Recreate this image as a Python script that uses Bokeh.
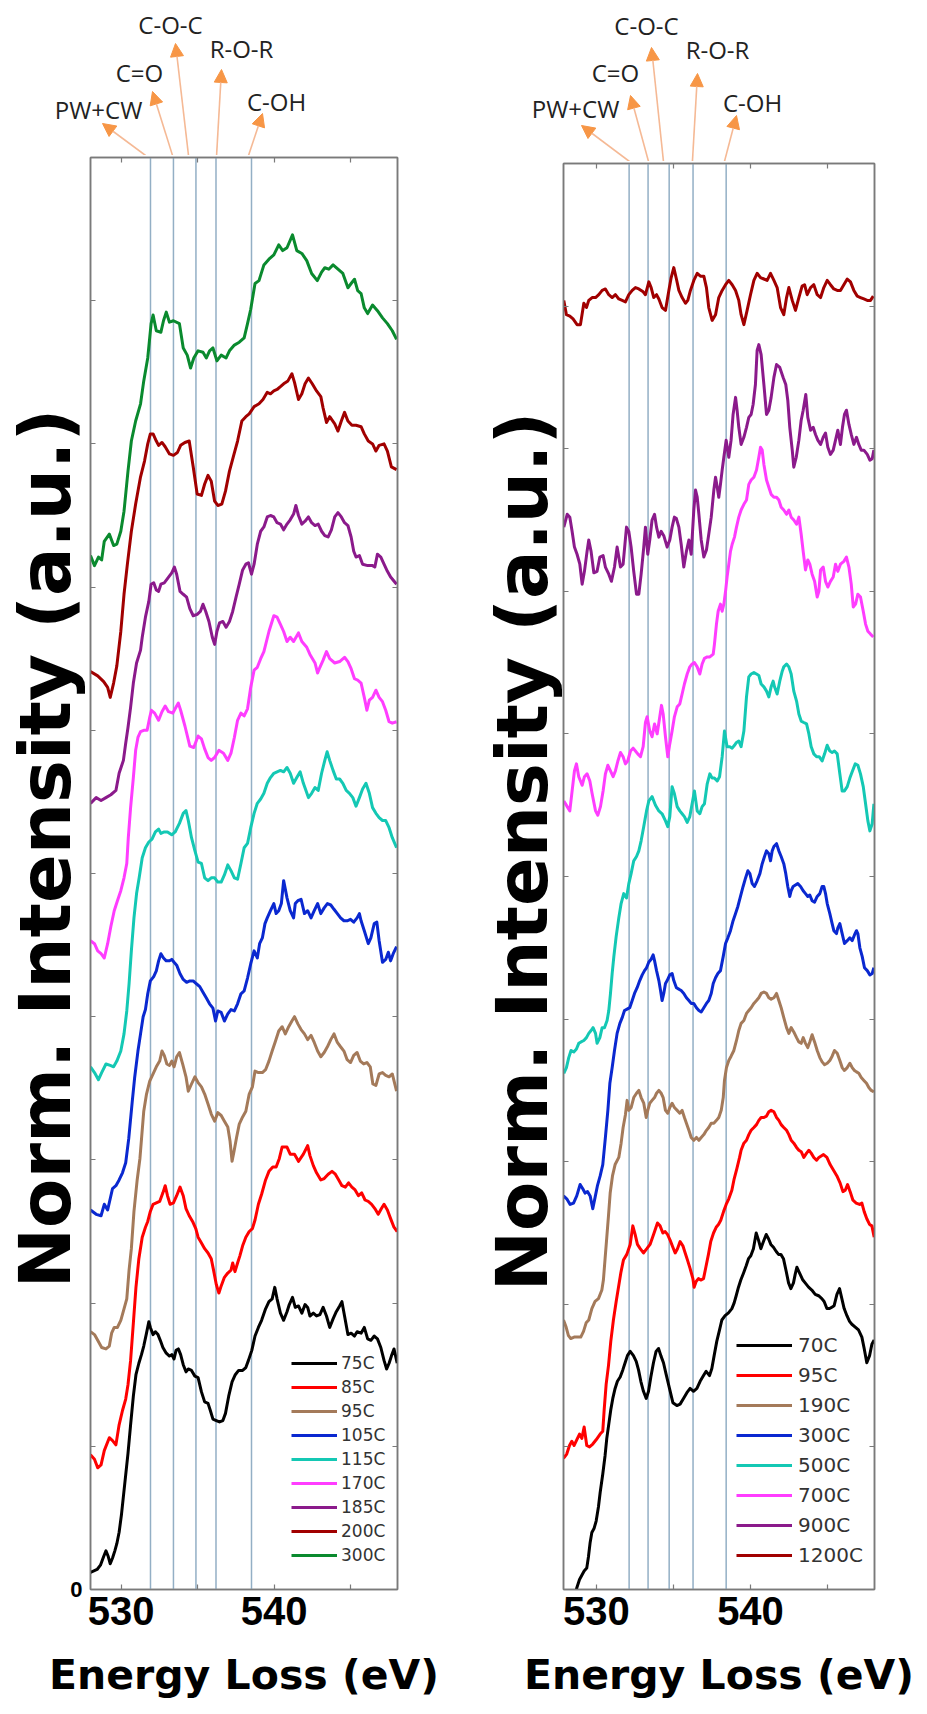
import math
from bokeh.plotting import figure
from bokeh.layouts import row, column
from bokeh.models import (Range1d, LinearAxis, FixedTicker, Legend, LegendItem,
                          Label, Arrow, NormalHead, Span)
from bokeh.embed import file_html
from bokeh.resources import INLINE

# ---------------- data: (energy loss eV, normalised intensity + offset) ----------------
L75 = [(528.0,0.12),(528.22,0.13),(528.43,0.14),(528.65,0.17),(528.86,0.23),(529.01,0.27),(529.16,0.23),(529.29,0.18),(529.44,0.22),(529.59,0.27),(529.72,0.32),(529.87,0.40),(530.02,0.52),(530.15,0.65),(530.30,0.80),(530.45,0.95),(530.62,1.15),(530.80,1.35),(530.97,1.50),(531.16,1.58),(531.33,1.64),(531.48,1.70),(531.66,1.79),(531.81,1.87),(531.91,1.83),(532.09,1.78),(532.24,1.80),(532.41,1.78),(532.56,1.74),(532.73,1.69),(532.95,1.65),(533.16,1.63),(533.31,1.64),(533.46,1.61),(533.59,1.67),(533.74,1.68),(533.89,1.64),(534.06,1.57),(534.24,1.52),(534.39,1.54),(534.60,1.53),(534.82,1.49),(535.03,1.48),(535.25,1.38),(535.46,1.31),(535.68,1.30),(535.83,1.25),(536.00,1.19),(536.22,1.18),(536.43,1.17),(536.65,1.18),(536.82,1.23),(537.03,1.35),(537.25,1.45),(537.46,1.50),(537.68,1.53),(537.94,1.53),(538.15,1.55),(538.32,1.60),(538.54,1.67),(538.75,1.77),(538.97,1.83),(539.18,1.88),(539.44,1.96),(539.66,2.01),(539.87,2.03),(540.04,2.11),(540.19,2.03),(540.41,1.93),(540.62,1.88),(540.84,1.94),(540.99,1.99),(541.20,2.04),(541.38,1.97),(541.59,1.98),(541.81,1.93),(542.02,1.99),(542.19,1.97),(542.34,1.91),(542.56,1.93),(542.77,1.91),(542.99,1.92),(543.20,1.97),(543.42,1.91),(543.63,1.83),(543.85,1.89),(544.06,1.94),(544.28,1.98),(544.43,2.01),(544.60,1.91),(544.82,1.78),(545.03,1.79),(545.25,1.77),(545.42,1.80),(545.68,1.79),(545.89,1.83),(546.11,1.75),(546.32,1.74),(546.54,1.77),(546.75,1.75),(546.97,1.69),(547.18,1.60),(547.35,1.54),(547.51,1.58),(547.66,1.63),(547.83,1.68),(548.04,1.58)]
L85 = [(528.0,0.94),(528.26,0.91),(528.47,0.85),(528.69,0.87),(528.90,0.97),(529.23,1.06),(529.44,1.04),(529.66,1.01),(529.87,1.15),(530.09,1.25),(530.30,1.33),(530.45,1.43),(530.62,1.60),(530.80,1.86),(530.97,2.11),(531.16,2.31),(531.38,2.46),(531.59,2.53),(531.74,2.57),(531.91,2.64),(532.09,2.69),(532.30,2.70),(532.52,2.71),(532.73,2.77),(532.88,2.82),(533.03,2.75),(533.20,2.69),(533.42,2.70),(533.63,2.75),(533.85,2.81),(534.06,2.75),(534.24,2.66),(534.45,2.61),(534.67,2.57),(534.88,2.52),(535.03,2.46),(535.25,2.42),(535.46,2.38),(535.68,2.35),(535.89,2.31),(536.04,2.23),(536.22,2.13),(536.39,2.07),(536.54,2.12),(536.75,2.18),(536.97,2.21),(537.18,2.23),(537.29,2.28),(537.44,2.22),(537.61,2.28),(537.76,2.33),(537.94,2.40),(538.15,2.46),(538.37,2.50),(538.58,2.52),(538.75,2.58),(538.97,2.69),(539.18,2.76),(539.44,2.86),(539.66,2.92),(539.91,2.95),(540.13,2.95),(540.34,3.01),(540.52,3.09),(540.84,3.09),(541.05,3.04),(541.33,3.04),(541.59,2.99),(541.91,3.04),(542.19,3.10),(542.34,3.03),(542.56,2.96),(542.77,2.91),(543.05,2.86),(543.27,2.87),(543.53,2.90),(543.78,2.92),(544.00,2.90),(544.22,2.86),(544.43,2.82),(544.65,2.81),(544.86,2.84),(545.08,2.81),(545.29,2.79),(545.51,2.75),(545.72,2.77),(545.94,2.72),(546.15,2.71),(546.37,2.69),(546.58,2.66),(546.80,2.62),(547.01,2.66),(547.18,2.69),(547.40,2.65),(547.61,2.59),(547.83,2.53),(548.04,2.50)]
L95 = [(528.0,1.80),(528.26,1.78),(528.47,1.74),(528.73,1.69),(529.01,1.68),(529.23,1.70),(529.38,1.79),(529.55,1.83),(529.76,1.83),(529.98,1.88),(530.19,1.96),(530.37,2.03),(530.52,2.23),(530.67,2.38),(530.84,2.64),(531.05,2.86),(531.23,3.01),(531.48,3.34),(531.66,3.46),(531.87,3.55),(532.09,3.60),(532.30,3.65),(532.52,3.69),(532.67,3.76),(532.82,3.73),(532.99,3.67),(533.16,3.66),(533.31,3.69),(533.46,3.65),(533.63,3.72),(533.81,3.75),(534.02,3.67),(534.24,3.58),(534.39,3.48),(534.60,3.53),(534.82,3.58),(535.03,3.54),(535.25,3.51),(535.46,3.46),(535.68,3.39),(535.89,3.32),(536.11,3.27),(536.32,3.33),(536.54,3.31),(536.75,3.27),(536.97,3.23),(537.12,3.13),(537.25,2.99),(537.38,3.06),(537.55,3.16),(537.72,3.25),(537.94,3.30),(538.15,3.34),(538.37,3.46),(538.58,3.51),(538.75,3.62),(538.97,3.61),(539.23,3.61),(539.44,3.63),(539.66,3.69),(539.87,3.76),(540.09,3.83),(540.30,3.90),(540.52,3.93),(540.73,3.88),(540.95,3.93),(541.16,3.97),(541.33,4.00),(541.55,3.95),(541.76,3.91),(541.98,3.88),(542.19,3.84),(542.41,3.87),(542.62,3.82),(542.84,3.76),(543.05,3.72),(543.27,3.75),(543.48,3.79),(543.70,3.84),(543.91,3.88),(544.13,3.82),(544.34,3.79),(544.56,3.76),(544.77,3.70),(544.99,3.68),(545.20,3.73),(545.42,3.75),(545.63,3.69),(545.85,3.67),(546.06,3.68),(546.28,3.65),(546.45,3.53),(546.65,3.52),(546.86,3.60),(547.08,3.61),(547.29,3.59),(547.51,3.58),(547.72,3.60),(548.00,3.48)]
L105 = [(528.0,2.65),(528.37,2.62),(528.69,2.61),(528.90,2.69),(529.12,2.65),(529.44,2.80),(529.66,2.82),(529.87,2.86),(530.09,2.91),(530.30,2.98),(530.50,3.15),(530.73,3.41),(530.88,3.57),(531.10,3.76),(531.27,3.88),(531.44,4.00),(531.59,4.05),(531.74,4.16),(531.91,4.25),(532.13,4.28),(532.30,4.32),(532.45,4.39),(532.60,4.44),(532.77,4.41),(532.95,4.39),(533.16,4.39),(533.31,4.40),(533.46,4.38),(533.63,4.36),(533.85,4.30),(534.06,4.26),(534.28,4.24),(534.49,4.25),(534.71,4.25),(534.92,4.23),(535.14,4.21),(535.35,4.17),(535.57,4.13),(535.78,4.09),(536.00,4.06),(536.17,3.97),(536.32,4.04),(536.54,4.03),(536.75,3.97),(536.97,4.02),(537.18,4.05),(537.40,4.04),(537.61,4.09),(537.83,4.16),(538.04,4.18),(538.26,4.27),(538.47,4.37),(538.69,4.46),(538.90,4.41),(539.05,4.51),(539.23,4.55),(539.40,4.65),(539.55,4.69),(539.76,4.74),(539.98,4.79),(540.13,4.72),(540.30,4.74),(540.47,4.79),(540.62,4.95),(540.84,4.83),(541.05,4.74),(541.27,4.69),(541.38,4.79),(541.55,4.81),(541.76,4.82),(541.98,4.72),(542.19,4.74),(542.41,4.69),(542.62,4.74),(542.84,4.79),(543.05,4.72),(543.27,4.76),(543.48,4.79),(543.70,4.78),(543.91,4.75),(544.13,4.72),(544.34,4.69),(544.56,4.67),(544.77,4.67),(544.99,4.68),(545.20,4.66),(545.42,4.69),(545.57,4.72),(545.68,4.67),(545.89,4.60),(546.15,4.51),(546.32,4.55),(546.54,4.65),(546.71,4.66),(546.86,4.53),(547.08,4.38),(547.29,4.40),(547.46,4.45),(547.61,4.39),(547.78,4.44),(548.00,4.49)]
L115 = [(528.0,3.65),(528.26,3.61),(528.52,3.56),(528.73,3.61),(529.01,3.67),(529.29,3.66),(529.51,3.65),(529.72,3.69),(529.98,3.76),(530.19,3.88),(530.37,4.04),(530.52,4.23),(530.67,4.46),(530.84,4.69),(531.01,4.86),(531.18,4.97),(531.38,5.11),(531.59,5.18),(531.81,5.22),(532.02,5.24),(532.24,5.29),(532.45,5.31),(532.60,5.28),(532.82,5.29),(533.03,5.29),(533.31,5.27),(533.53,5.29),(533.81,5.35),(534.06,5.42),(534.24,5.44),(534.39,5.37),(534.60,5.25),(534.82,5.16),(535.03,5.08),(535.25,5.07),(535.46,4.97),(535.68,4.95),(535.89,4.97),(536.11,4.97),(536.32,4.94),(536.54,4.94),(536.75,4.99),(536.97,5.06),(537.18,5.02),(537.40,4.97),(537.61,4.96),(537.83,5.07),(538.04,5.18),(538.26,5.21),(538.47,5.32),(538.69,5.42),(538.90,5.49),(539.12,5.52),(539.33,5.56),(539.55,5.63),(539.76,5.67),(539.98,5.70),(540.19,5.71),(540.41,5.72),(540.62,5.71),(540.84,5.74),(541.05,5.70),(541.27,5.63),(541.48,5.67),(541.70,5.71),(541.91,5.63),(542.24,5.53),(542.45,5.56),(542.67,5.60),(542.88,5.58),(543.10,5.70),(543.31,5.79),(543.46,5.85),(543.63,5.79),(543.85,5.72),(544.06,5.66),(544.28,5.66),(544.49,5.63),(544.71,5.58),(544.92,5.56),(545.14,5.53),(545.35,5.47),(545.57,5.53),(545.78,5.59),(546.00,5.63),(546.22,5.56),(546.43,5.46),(546.65,5.42),(546.86,5.39),(547.08,5.37),(547.29,5.37),(547.51,5.32),(547.72,5.25),(548.00,5.18)]
L170 = [(528.0,4.53),(528.26,4.51),(528.47,4.46),(528.69,4.44),(528.90,4.41),(529.12,4.51),(529.33,4.63),(529.55,4.74),(529.76,4.81),(529.98,4.88),(530.19,4.97),(530.37,5.07),(530.47,5.25),(530.62,5.46),(530.80,5.67),(530.95,5.86),(531.10,5.95),(531.27,5.99),(531.48,6.00),(531.70,6.00),(531.87,6.09),(531.98,6.14),(532.19,6.12),(532.45,6.07),(532.67,6.13),(532.88,6.17),(533.10,6.13),(533.38,6.12),(533.53,6.15),(533.74,6.19),(533.89,6.14),(534.17,6.03),(534.49,5.89),(534.75,5.88),(535.03,5.96),(535.25,5.94),(535.46,5.87),(535.68,5.81),(535.89,5.79),(536.11,5.81),(536.39,5.86),(536.69,5.84),(536.97,5.79),(537.18,5.84),(537.40,5.95),(537.61,6.07),(537.83,6.12),(538.04,6.10),(538.26,6.15),(538.47,6.30),(538.69,6.42),(538.90,6.44),(539.12,6.50),(539.33,6.55),(539.66,6.69),(539.98,6.80),(540.19,6.79),(540.41,6.74),(540.62,6.69),(540.84,6.62),(541.05,6.65),(541.27,6.62),(541.59,6.68),(541.81,6.62),(542.13,6.58),(542.34,6.53),(542.67,6.47),(542.84,6.40),(542.99,6.44),(543.20,6.49),(543.42,6.55),(543.63,6.50),(543.96,6.47),(544.28,6.48),(544.60,6.51),(544.82,6.48),(545.03,6.43),(545.25,6.36),(545.46,6.35),(545.68,6.33),(545.89,6.23),(546.06,6.14),(546.22,6.21),(546.43,6.23),(546.65,6.28),(546.86,6.23),(547.08,6.20),(547.29,6.14),(547.51,6.06),(547.72,6.05),(548.00,6.06)]
L185 = [(528.0,5.49),(528.37,5.53),(528.69,5.51),(529.01,5.53),(529.33,5.55),(529.66,5.58),(529.87,5.70),(530.15,5.79),(530.30,5.91),(530.45,6.02),(530.62,6.16),(530.80,6.33),(531.01,6.47),(531.27,6.56),(531.38,6.65),(531.59,6.79),(531.81,6.90),(531.96,7.02),(532.13,7.03),(532.30,6.98),(532.45,6.97),(532.60,7.02),(532.82,7.03),(533.10,7.07),(533.31,7.10),(533.48,7.14),(533.63,7.09),(533.85,6.97),(534.06,6.95),(534.28,6.93),(534.49,6.85),(534.71,6.80),(534.97,6.81),(535.18,6.83),(535.35,6.88),(535.53,6.83),(535.74,6.76),(535.96,6.65),(536.11,6.60),(536.26,6.69),(536.43,6.75),(536.65,6.76),(536.86,6.72),(537.08,6.76),(537.29,6.83),(537.51,6.93),(537.72,7.02),(537.94,7.12),(538.15,7.16),(538.32,7.17),(538.52,7.09),(538.69,7.16),(538.90,7.30),(539.12,7.39),(539.33,7.42),(539.55,7.49),(539.76,7.50),(539.98,7.49),(540.19,7.45),(540.41,7.44),(540.62,7.40),(540.84,7.44),(541.05,7.47),(541.27,7.51),(541.42,7.57),(541.59,7.50),(541.81,7.44),(542.02,7.46),(542.24,7.49),(542.45,7.45),(542.67,7.43),(542.88,7.44),(543.10,7.39),(543.31,7.36),(543.53,7.35),(543.74,7.40),(543.96,7.49),(544.17,7.52),(544.39,7.49),(544.60,7.45),(544.82,7.43),(545.03,7.35),(545.20,7.25),(545.35,7.21),(545.57,7.22),(545.78,7.16),(546.11,7.15),(546.43,7.15),(546.58,7.14),(546.75,7.23),(546.97,7.21),(547.18,7.16),(547.40,7.11),(547.61,7.07),(548.00,7.02)]
L200 = [(528.0,6.41),(528.47,6.38),(528.86,6.34),(529.12,6.30),(529.29,6.23),(529.51,6.33),(529.72,6.45),(529.98,6.69),(530.19,6.95),(530.41,7.16),(530.67,7.39),(530.95,7.58),(531.27,7.77),(531.53,7.88),(531.74,8.00),(531.91,8.07),(532.09,8.07),(532.30,8.02),(532.45,7.99),(532.67,8.01),(532.88,7.98),(533.16,7.93),(533.42,7.92),(533.68,7.94),(533.89,7.99),(534.17,8.01),(534.45,8.02),(534.71,7.84),(534.97,7.65),(535.25,7.64),(535.46,7.72),(535.68,7.78),(535.89,7.74),(536.11,7.60),(536.32,7.57),(536.58,7.58),(536.82,7.67),(537.08,7.81),(537.33,7.91),(537.61,8.02),(537.89,8.16),(538.15,8.19),(538.37,8.21),(538.69,8.26),(539.01,8.28),(539.27,8.31),(539.55,8.36),(539.76,8.35),(539.98,8.37),(540.19,8.38),(540.41,8.40),(540.62,8.42),(540.90,8.44),(541.16,8.49),(541.33,8.43),(541.59,8.31),(541.81,8.35),(542.02,8.42),(542.24,8.46),(542.49,8.42),(542.77,8.37),(543.05,8.33),(543.20,8.25),(543.42,8.15),(543.63,8.19),(543.96,8.14),(544.17,8.09),(544.39,8.16),(544.60,8.22),(544.82,8.16),(545.08,8.13),(545.35,8.13),(545.68,8.12),(545.89,8.07),(546.15,8.02),(546.43,8.00),(546.65,7.95),(546.86,7.99),(547.18,8.00),(547.40,7.95),(547.66,7.84),(548.00,7.82)]
L300 = [(528.0,7.22),(528.26,7.15),(528.52,7.21),(528.73,7.19),(528.90,7.32),(529.23,7.37),(529.51,7.29),(529.72,7.30),(529.98,7.39),(530.19,7.53),(530.45,7.81),(530.67,8.02),(530.95,8.16),(531.27,8.28),(531.48,8.44),(531.74,8.60),(531.96,8.84),(532.09,8.90),(532.30,8.79),(532.60,8.78),(532.77,8.86),(532.95,8.92),(533.16,8.85),(533.42,8.86),(533.81,8.84),(534.06,8.67),(534.32,8.62),(534.54,8.53),(534.75,8.60),(535.03,8.65),(535.35,8.64),(535.57,8.60),(535.78,8.65),(536.00,8.67),(536.26,8.58),(536.54,8.62),(536.86,8.60),(537.08,8.65),(537.40,8.69),(537.72,8.71),(538.04,8.74),(538.26,8.84),(538.47,8.94),(538.75,9.12),(539.01,9.14),(539.33,9.25),(539.66,9.29),(539.98,9.32),(540.30,9.39),(540.56,9.35),(540.84,9.37),(541.20,9.46),(541.48,9.35),(541.81,9.33),(542.13,9.28),(542.45,9.19),(542.82,9.14),(543.10,9.20),(543.31,9.23),(543.57,9.22),(543.85,9.25),(544.17,9.22),(544.49,9.19),(544.82,9.09),(545.03,9.12),(545.25,9.15),(545.46,9.07),(545.68,9.05),(545.89,8.95),(546.11,8.91),(546.43,8.97),(546.75,8.93),(547.08,8.88),(547.40,8.84),(547.72,8.79),(548.00,8.73)]

R70 = [(528.6,-0.05),(528.72,0.01),(528.90,0.07),(529.05,0.10),(529.20,0.13),(529.37,0.15),(529.48,0.23),(529.59,0.33),(529.70,0.40),(529.85,0.43),(529.98,0.48),(530.13,0.58),(530.24,0.68),(530.41,0.81),(530.56,0.94),(530.67,1.06),(530.80,1.16),(530.93,1.26),(531.06,1.34),(531.21,1.41),(531.36,1.46),(531.54,1.49),(531.71,1.54),(531.86,1.59),(532.01,1.64),(532.19,1.67),(532.40,1.64),(532.58,1.60),(532.73,1.54),(532.88,1.46),(533.05,1.39),(533.23,1.34),(533.38,1.39),(533.53,1.49),(533.70,1.59),(533.87,1.67),(534.03,1.69),(534.18,1.64),(534.35,1.59),(534.52,1.51),(534.74,1.41),(534.96,1.31),(535.22,1.29),(535.43,1.30),(535.65,1.34),(535.87,1.38),(536.08,1.41),(536.30,1.39),(536.52,1.41),(536.73,1.46),(536.95,1.50),(537.12,1.53),(537.34,1.50),(537.49,1.55),(537.64,1.64),(537.81,1.74),(537.99,1.82),(538.14,1.89),(538.35,1.92),(538.57,1.94),(538.79,1.97),(538.94,2.01),(539.07,2.06),(539.22,2.12),(539.37,2.17),(539.55,2.22),(539.72,2.27),(539.87,2.32),(540.02,2.34),(540.19,2.39),(540.37,2.50),(540.52,2.45),(540.67,2.39),(540.84,2.44),(541.02,2.49),(541.17,2.46),(541.32,2.42),(541.49,2.40),(541.67,2.37),(541.82,2.35),(541.97,2.35),(542.14,2.32),(542.32,2.23),(542.47,2.15),(542.62,2.11),(542.79,2.15),(542.90,2.21),(543.01,2.26),(543.18,2.22),(543.40,2.17),(543.55,2.15),(543.77,2.12),(543.98,2.10),(544.20,2.07),(544.42,2.06),(544.63,2.04),(544.78,2.02),(544.96,1.97),(545.13,1.97),(545.28,1.98),(545.43,1.99),(545.61,2.07),(545.78,2.11),(545.93,2.04),(546.08,1.97),(546.26,1.92),(546.43,1.88),(546.58,1.86),(546.80,1.84),(547.01,1.82),(547.23,1.77),(547.38,1.69),(547.55,1.59),(547.73,1.64),(547.88,1.72),(548.03,1.75)]
R95 = [(527.86,0.92),(528.07,0.95),(528.25,1.01),(528.40,1.04),(528.55,1.01),(528.72,1.05),(528.90,1.09),(529.05,1.06),(529.20,1.14),(529.37,1.01),(529.55,1.00),(529.76,1.02),(529.98,1.05),(530.24,1.09),(530.41,1.11),(530.50,1.26),(530.63,1.44),(530.78,1.57),(530.93,1.74),(531.10,1.89),(531.28,2.02),(531.43,2.12),(531.58,2.22),(531.75,2.31),(531.97,2.35),(532.19,2.42),(532.36,2.55),(532.51,2.49),(532.66,2.42),(532.84,2.39),(533.05,2.36),(533.27,2.39),(533.48,2.42),(533.74,2.50),(533.96,2.57),(534.13,2.55),(534.31,2.50),(534.46,2.51),(534.61,2.49),(534.78,2.45),(534.96,2.40),(535.11,2.36),(535.26,2.39),(535.43,2.44),(535.61,2.41),(535.76,2.36),(535.91,2.31),(536.08,2.25),(536.26,2.18),(536.34,2.12),(536.47,2.16),(536.62,2.18),(536.77,2.17),(536.95,2.18),(537.12,2.27),(537.27,2.35),(537.42,2.44),(537.60,2.50),(537.77,2.54),(537.92,2.56),(538.07,2.59),(538.25,2.65),(538.42,2.70),(538.59,2.74),(538.79,2.80),(538.94,2.88),(539.11,2.95),(539.29,3.03),(539.39,3.08),(539.57,3.13),(539.74,3.15),(539.89,3.19),(540.04,3.22),(540.22,3.24),(540.39,3.26),(540.54,3.29),(540.69,3.31),(540.87,3.31),(541.04,3.32),(541.19,3.35),(541.34,3.36),(541.52,3.35),(541.69,3.31),(541.84,3.29),(541.99,3.26),(542.16,3.24),(542.34,3.22),(542.49,3.19),(542.64,3.15),(542.81,3.13),(542.99,3.10),(543.14,3.08),(543.29,3.07),(543.46,3.03),(543.64,3.06),(543.79,3.08),(543.94,3.06),(544.11,3.03),(544.29,3.01),(544.44,3.03),(544.59,3.04),(544.74,3.05),(544.96,3.03),(545.17,2.98),(545.39,2.94),(545.61,2.90),(545.82,2.85),(546.00,2.79),(546.15,2.80),(546.30,2.84),(546.47,2.79),(546.65,2.73),(546.86,2.71),(547.08,2.70),(547.23,2.71),(547.38,2.65),(547.55,2.60),(547.73,2.56),(547.88,2.55),(548.03,2.47)]
R190 = [(527.86,1.89),(528.03,1.84),(528.18,1.78),(528.33,1.76),(528.55,1.77),(528.77,1.77),(528.98,1.77),(529.16,1.81),(529.33,1.87),(529.50,1.89),(529.70,1.97),(529.91,2.02),(530.13,2.04),(530.35,2.10),(530.45,2.17),(530.56,2.32),(530.67,2.47),(530.78,2.62),(530.89,2.78),(531.04,2.90),(531.21,2.98),(531.45,3.03),(531.60,3.13),(531.73,3.24),(531.88,3.33),(531.99,3.43),(532.10,3.36),(532.25,3.38),(532.42,3.45),(532.60,3.48),(532.75,3.50),(532.90,3.45),(533.07,3.41),(533.23,3.31),(533.33,3.36),(533.46,3.41),(533.61,3.43),(533.77,3.45),(533.90,3.48),(534.05,3.50),(534.20,3.48),(534.33,3.45),(534.48,3.36),(534.63,3.34),(534.76,3.38),(534.91,3.41),(535.06,3.38),(535.24,3.36),(535.41,3.34),(535.56,3.36),(535.71,3.31),(535.84,3.27),(536.00,3.22),(536.15,3.17),(536.32,3.15),(536.49,3.17),(536.65,3.15),(536.80,3.17),(536.97,3.19),(537.14,3.22),(537.29,3.24),(537.45,3.27),(537.62,3.27),(537.79,3.29),(537.94,3.31),(538.10,3.36),(538.23,3.45),(538.31,3.57),(538.44,3.66),(538.59,3.71),(538.74,3.74),(538.92,3.78),(539.09,3.85),(539.24,3.92),(539.39,3.97),(539.57,3.99),(539.74,4.04),(539.89,4.06),(540.04,4.08),(540.22,4.11),(540.39,4.13),(540.54,4.15),(540.69,4.18),(540.87,4.19),(541.04,4.18),(541.19,4.15),(541.34,4.14),(541.52,4.15),(541.69,4.18),(541.84,4.13),(541.99,4.08),(542.16,4.01),(542.34,3.94),(542.49,3.90),(542.64,3.94),(542.81,3.91),(542.99,3.87),(543.14,3.84),(543.29,3.83),(543.42,3.87),(543.57,3.83),(543.72,3.80),(543.85,3.84),(544.00,3.89),(544.16,3.84),(544.33,3.78),(544.50,3.73),(544.65,3.70),(544.81,3.68),(544.98,3.69),(545.15,3.71),(545.30,3.74),(545.45,3.78),(545.63,3.76),(545.80,3.71),(545.95,3.66),(546.10,3.64),(546.28,3.66),(546.45,3.69),(546.60,3.66),(546.75,3.64),(546.88,3.63),(547.03,3.62),(547.19,3.59),(547.36,3.57),(547.53,3.55),(547.68,3.52),(547.84,3.50),(548.01,3.49)]
R300 = [(527.86,2.76),(528.07,2.74),(528.29,2.70),(528.51,2.71),(528.72,2.76),(528.94,2.84),(529.11,2.81),(529.26,2.78),(529.42,2.79),(529.59,2.76),(529.76,2.67),(529.91,2.75),(530.06,2.83),(530.24,2.90),(530.41,2.98),(530.58,3.17),(530.74,3.36),(530.87,3.55),(531.02,3.66),(531.17,3.78),(531.34,3.90),(531.52,3.97),(531.67,4.01),(531.82,4.06),(531.99,4.07),(532.16,4.08),(532.32,4.13),(532.47,4.18),(532.64,4.22),(532.81,4.27),(532.97,4.31),(533.12,4.34),(533.25,4.36),(533.40,4.40),(533.55,4.42),(533.68,4.45),(533.77,4.41),(533.90,4.34),(534.05,4.27),(534.16,4.20),(534.26,4.13),(534.37,4.18),(534.48,4.25),(534.59,4.27),(534.76,4.31),(534.91,4.32),(535.02,4.27),(535.19,4.22),(535.35,4.21),(535.50,4.20),(535.67,4.18),(535.84,4.15),(536.00,4.13),(536.15,4.11),(536.32,4.11),(536.49,4.08),(536.65,4.06),(536.80,4.05),(536.97,4.08),(537.14,4.11),(537.29,4.13),(537.45,4.18),(537.58,4.25),(537.73,4.29),(537.88,4.32),(538.05,4.34),(538.23,4.44),(538.38,4.53),(538.53,4.57),(538.70,4.62),(538.87,4.69),(539.03,4.74),(539.18,4.79),(539.35,4.86),(539.52,4.93),(539.68,4.99),(539.83,5.04),(539.96,5.02),(540.11,4.95),(540.26,4.93),(540.43,4.97),(540.61,5.02),(540.76,5.09),(540.91,5.14),(541.04,5.18),(541.19,5.16),(541.30,5.11),(541.41,5.18),(541.52,5.21),(541.69,5.23),(541.84,5.18),(541.99,5.14),(542.16,5.09),(542.29,5.02),(542.42,4.93),(542.55,4.86),(542.64,4.90),(542.77,4.93),(542.92,4.94),(543.07,4.95),(543.25,4.93),(543.42,4.90),(543.57,4.88),(543.72,4.86),(543.85,4.87),(544.00,4.83),(544.16,4.82),(544.33,4.86),(544.50,4.88),(544.65,4.93),(544.76,4.93),(544.87,4.88),(544.98,4.81),(545.15,4.74),(545.30,4.67),(545.41,4.62),(545.58,4.60),(545.67,4.64),(545.80,4.67),(545.95,4.60),(546.10,4.53),(546.28,4.55),(546.45,4.57),(546.60,4.55),(546.75,4.59),(546.88,4.62),(546.97,4.60),(547.10,4.50),(547.25,4.44),(547.40,4.36),(547.58,4.34),(547.75,4.31),(547.90,4.32),(548.01,4.36)]
R500 = [(527.88,3.62),(528.05,3.66),(528.20,3.73),(528.35,3.78),(528.53,3.77),(528.70,3.79),(528.85,3.83),(529.00,3.84),(529.18,3.85),(529.35,3.87),(529.50,3.90),(529.65,3.92),(529.78,3.94),(529.94,3.90),(530.04,3.83),(530.22,3.87),(530.37,3.94),(530.52,3.94),(530.69,3.99),(530.80,4.06),(530.91,4.18),(531.02,4.32),(531.13,4.44),(531.28,4.58),(531.45,4.71),(531.60,4.81),(531.77,4.88),(531.95,4.85),(532.10,4.95),(532.25,5.02),(532.42,5.11),(532.60,5.14),(532.75,5.18),(532.90,5.25),(533.07,5.35),(533.25,5.46),(533.40,5.53),(533.61,5.56),(533.83,5.50),(534.05,5.46),(534.26,5.44),(534.48,5.39),(534.63,5.35),(534.76,5.42),(534.91,5.63),(535.06,5.58),(535.24,5.49),(535.41,5.46),(535.56,5.44),(535.71,5.42),(535.89,5.38),(536.06,5.42),(536.21,5.51),(536.36,5.60),(536.54,5.46),(536.71,5.44),(536.86,5.49),(537.01,5.51),(537.19,5.65),(537.36,5.72),(537.51,5.69),(537.66,5.69),(537.84,5.67),(537.99,5.70),(538.16,5.84),(538.31,6.02),(538.48,5.91),(538.66,5.91),(538.81,5.90),(538.96,5.92),(539.09,5.94),(539.24,5.95),(539.39,5.91),(539.57,6.02),(539.74,6.26),(539.89,6.40),(540.04,6.42),(540.22,6.43),(540.39,6.42),(540.54,6.41),(540.69,6.35),(540.87,6.33),(541.04,6.30),(541.19,6.26),(541.34,6.33),(541.47,6.37),(541.56,6.33),(541.73,6.28),(541.90,6.37),(542.06,6.44),(542.16,6.47),(542.34,6.49),(542.49,6.47),(542.64,6.42),(542.81,6.30),(542.99,6.23),(543.14,6.14),(543.29,6.09),(543.46,6.08),(543.64,6.07),(543.79,6.00),(543.94,5.91),(544.11,5.86),(544.29,5.84),(544.46,5.84),(544.65,5.81),(544.81,5.86),(544.98,5.92),(545.15,5.88),(545.30,5.87),(545.45,5.88),(545.63,5.86),(545.80,5.72),(545.95,5.60),(546.10,5.60),(546.28,5.63),(546.45,5.69),(546.62,5.74),(546.80,5.79),(546.97,5.78),(547.14,5.72),(547.32,5.63),(547.47,5.51),(547.62,5.39),(547.75,5.32),(547.90,5.37),(548.01,5.51)]
R700 = [(527.88,5.53),(528.10,5.49),(528.27,5.46),(528.42,5.60),(528.57,5.74),(528.70,5.79),(528.85,5.70),(529.07,5.64),(529.22,5.70),(529.39,5.72),(529.57,5.67),(529.72,5.58),(529.94,5.46),(530.09,5.43),(530.26,5.49),(530.43,5.60),(530.58,5.72),(530.74,5.78),(530.91,5.74),(531.08,5.70),(531.23,5.74),(531.39,5.81),(531.56,5.87),(531.73,5.84),(531.88,5.79),(532.03,5.81),(532.21,5.88),(532.38,5.90),(532.53,5.88),(532.68,5.86),(532.86,5.84),(533.03,5.91),(533.18,6.08),(533.29,6.12),(533.46,6.02),(533.61,5.98),(533.77,6.07),(533.94,6.00),(534.11,6.12),(534.22,6.20),(534.33,6.14),(534.48,5.98),(534.63,5.84),(534.76,5.93),(534.91,6.02),(535.06,6.12),(535.24,6.19),(535.41,6.21),(535.56,6.28),(535.71,6.35),(535.89,6.42),(536.06,6.47),(536.21,6.49),(536.36,6.50),(536.54,6.47),(536.71,6.42),(536.86,6.49),(537.01,6.53),(537.19,6.54),(537.36,6.54),(537.58,6.56),(537.66,6.63),(537.79,6.77),(537.90,6.86),(538.05,6.91),(538.16,6.86),(538.27,6.91),(538.38,7.00),(538.48,7.10),(538.59,7.19),(538.70,7.28),(538.81,7.33),(538.96,7.38),(539.09,7.45),(539.24,7.52),(539.39,7.57),(539.57,7.61),(539.74,7.64),(539.89,7.75),(540.04,7.78),(540.22,7.80),(540.39,7.85),(540.54,7.94),(540.65,8.01),(540.76,7.99),(540.87,7.89),(541.04,7.78),(541.19,7.73),(541.34,7.68),(541.52,7.66),(541.69,7.66),(541.84,7.64),(541.99,7.59),(542.16,7.57),(542.34,7.54),(542.49,7.57),(542.64,7.52),(542.81,7.50),(542.99,7.47),(543.14,7.52),(543.29,7.40),(543.42,7.28),(543.57,7.15),(543.72,7.22),(543.85,7.19),(544.00,7.12),(544.16,7.07),(544.33,6.96),(544.44,7.00),(544.55,7.15),(544.72,7.17),(544.87,7.07),(545.02,7.03),(545.19,7.07),(545.37,7.10),(545.52,7.19),(545.67,7.14),(545.84,7.19),(546.06,7.21),(546.23,7.24),(546.39,7.17),(546.54,7.05),(546.67,6.89),(546.82,6.91),(546.97,6.98),(547.14,6.96),(547.32,6.86),(547.47,6.77),(547.62,6.72),(547.79,6.70),(547.97,6.68)]
R900 = [(527.88,7.45),(528.10,7.54),(528.27,7.52),(528.42,7.42),(528.57,7.31),(528.74,7.26),(528.92,7.19),(529.07,7.05),(529.22,7.14),(529.39,7.28),(529.50,7.36),(529.65,7.28),(529.83,7.13),(530.04,7.14),(530.22,7.24),(530.43,7.25),(530.58,7.17),(530.80,7.12),(530.97,7.07),(531.17,7.17),(531.34,7.31),(531.56,7.17),(531.73,7.19),(531.95,7.45),(532.10,7.42),(532.25,7.31),(532.42,7.14),(532.60,6.98),(532.75,6.98),(532.90,7.12),(533.07,7.31),(533.18,7.45),(533.33,7.26),(533.46,7.36),(533.61,7.50),(533.77,7.54),(533.90,7.45),(534.05,7.38),(534.20,7.42),(534.37,7.39),(534.59,7.31),(534.76,7.36),(534.91,7.45),(535.06,7.52),(535.19,7.51),(535.35,7.45),(535.50,7.33),(535.67,7.17),(535.84,7.28),(536.00,7.36),(536.15,7.26),(536.32,7.57),(536.43,7.71),(536.54,7.66),(536.65,7.54),(536.80,7.36),(536.97,7.24),(537.14,7.29),(537.29,7.40),(537.45,7.52),(537.62,7.71),(537.73,7.80),(537.84,7.73),(537.94,7.66),(538.05,7.75),(538.16,7.85),(538.27,7.94),(538.42,8.06),(538.59,7.94),(538.74,8.06),(538.87,8.24),(539.03,8.36),(539.13,8.27),(539.24,8.15),(539.39,8.03),(539.57,8.08),(539.74,8.15),(539.89,8.22),(540.04,8.24),(540.17,8.31),(540.32,8.45),(540.43,8.69),(540.54,8.73),(540.69,8.66),(540.87,8.45),(541.04,8.24),(541.19,8.27),(541.34,8.36),(541.52,8.50),(541.69,8.59),(541.90,8.57),(542.12,8.50),(542.29,8.45),(542.42,8.34),(542.55,8.15),(542.71,7.99),(542.81,7.87),(542.97,7.94),(543.14,8.06),(543.29,8.20),(543.42,8.27),(543.59,8.38),(543.72,8.22),(543.90,8.13),(544.07,8.15),(544.22,8.10),(544.37,8.06),(544.55,8.03),(544.72,8.08),(544.87,8.11),(545.02,8.01),(545.19,7.96),(545.37,7.99),(545.52,8.06),(545.67,8.13),(545.84,8.03),(545.97,8.15),(546.10,8.24),(546.23,8.27),(546.39,8.17),(546.54,8.10),(546.71,8.03),(546.88,8.08),(547.03,8.03),(547.19,7.99),(547.36,7.99),(547.58,7.96),(547.75,7.92),(547.90,7.93),(548.01,7.99)]
R1200 = [(527.88,9.04),(528.05,8.94),(528.27,8.93),(528.48,8.91),(528.74,8.87),(528.96,8.87),(529.18,9.02),(529.35,8.99),(529.50,9.04),(529.72,9.06),(529.94,9.06),(530.15,9.08),(530.37,9.11),(530.58,9.12),(530.80,9.08),(531.02,9.06),(531.23,9.08),(531.45,9.05),(531.67,9.04),(531.88,9.03),(532.10,9.08),(532.32,9.11),(532.53,9.13),(532.75,9.12),(533.03,9.10),(533.18,9.08),(533.40,9.17),(533.55,9.13),(533.72,9.06),(533.90,9.08),(534.05,9.05),(534.26,8.99),(534.48,8.97),(534.70,9.11),(534.85,9.20),(535.02,9.27),(535.19,9.19),(535.35,9.11),(535.56,9.06),(535.78,9.02),(535.93,9.04),(536.10,9.11),(536.32,9.18),(536.54,9.23),(536.75,9.21),(536.97,9.21),(537.14,9.13),(537.29,8.99),(537.51,8.90),(537.73,8.94),(537.94,9.06),(538.16,9.11),(538.38,9.15),(538.59,9.18),(538.81,9.15),(539.03,9.11),(539.24,9.04),(539.39,8.94),(539.57,8.87),(539.78,8.97),(540.00,9.08),(540.22,9.18),(540.43,9.23),(540.65,9.20),(540.87,9.19),(541.08,9.18),(541.30,9.23),(541.52,9.18),(541.73,9.13),(541.95,8.99),(542.16,8.94),(542.34,9.06),(542.49,9.13),(542.71,9.04),(542.92,8.97),(543.14,9.06),(543.35,9.14),(543.51,9.15),(543.68,9.08),(543.90,9.13),(544.11,9.15),(544.33,9.08),(544.55,9.06),(544.76,9.13),(544.98,9.18),(545.19,9.15),(545.41,9.12),(545.63,9.11),(545.84,9.11),(546.06,9.15),(546.28,9.19),(546.49,9.17),(546.71,9.11),(546.93,9.07),(547.14,9.06),(547.36,9.05),(547.58,9.04),(547.79,9.04),(547.97,9.07)]

LEFT_NAMES = ["75C", "85C", "95C", "105C", "115C", "170C", "185C", "200C", "300C"]
LEFT_SERIES = [L75, L85, L95, L105, L115, L170, L185, L200, L300]
RIGHT_NAMES = ["70C", "95C", "190C", "300C", "500C", "700C", "900C", "1200C"]
RIGHT_SERIES = [R70, R95, R190, R300, R500, R700, R900, R1200]

PEAK_NAMES = ["PW+CW", "C=O", "C-O-C", "R-O-R", "C-OH"]
PEAK_LINES_LEFT = [531.92, 533.42, 534.89, 536.20, 538.52]
PEAK_LINES_RIGHT = [532.12, 533.35, 534.72, 536.27, 538.42]
ARROW_BASE_LEFT = [531.81, 533.55, 534.58, 536.39, 538.45]
ARROW_BASE_RIGHT = [532.14, 533.38, 534.35, 536.23, 538.31]

X_TICKS = [530, 535, 540, 545]
X_TICK_TEXT = {530: "530", 535: "", 540: "540", 545: ""}
Y_TICKS = [0, 1, 2, 3, 4, 5, 6, 7, 8, 9, 10]
X_TITLE = "Energy Loss (eV)"
Y_TITLE = "Norm. Intensity (a.u.)"

# ---------------- styling ----------------
COLORS = ["#000000", "#FF0000", "#A47A5A", "#0A28D0", "#14C8B4",
          "#FF3DFF", "#8B1A8B", "#A10000", "#0A8A2E"]
GRAY = "#7a7a7a"
VLINE = "#93AFC5"
ORANGE = "#F79646"
ORANGE_LINE = "#F5B995"
H = 1712
FRAME_W = 311
FRAME_BOTTOM = 1589
# two no-break spaces lift the rotated title a little above the frame centre
Y_TITLE_PAD = "\u00a0\u00a0"


def add_axes(p, zero_label, ytitle_standoff):
    bottom = LinearAxis(ticker=FixedTicker(ticks=X_TICKS), major_label_overrides=X_TICK_TEXT,
                        major_label_text_font="Liberation Sans", major_label_text_font_style="bold",
                        major_label_text_font_size="40px", major_label_text_color="black",
                        major_label_standoff=7,
                        axis_label=X_TITLE, axis_label_standoff=23,
                        axis_label_text_font="DejaVu Sans", axis_label_text_font_style="bold",
                        axis_label_text_font_size="41px", axis_label_text_color="black")
    top = LinearAxis(ticker=FixedTicker(ticks=X_TICKS),
                     major_label_overrides={t: "" for t in X_TICKS},
                     major_label_text_font_size="1px", major_label_standoff=0)
    ylab = {t: "" for t in Y_TICKS}
    if zero_label:
        ylab[0] = "0"
        lab_size, lab_so = "22px", 8
    else:
        lab_size, lab_so = "1px", 0
    left = LinearAxis(ticker=FixedTicker(ticks=Y_TICKS), major_label_overrides=ylab,
                      major_label_text_font="Liberation Sans", major_label_text_font_style="bold",
                      major_label_text_font_size=lab_size, major_label_text_color="black",
                      major_label_standoff=lab_so,
                      axis_label=Y_TITLE_PAD + Y_TITLE, axis_label_standoff=ytitle_standoff,
                      axis_label_text_font="DejaVu Sans", axis_label_text_font_style="bold",
                      axis_label_text_font_size="72px", axis_label_text_color="black")
    right = LinearAxis(ticker=FixedTicker(ticks=Y_TICKS),
                       major_label_overrides={t: "" for t in Y_TICKS},
                       major_label_text_font_size="1px", major_label_standoff=0)
    for a in (bottom, top, left, right):
        a.major_tick_in = 5
        a.major_tick_out = 0
        a.minor_tick_line_color = None
        a.axis_line_color = GRAY
        a.axis_line_width = 1.5
        a.major_tick_line_color = GRAY
        a.major_tick_line_width = 1.2
    p.add_layout(bottom, "below")
    p.add_layout(top, "above")
    p.add_layout(left, "left")
    p.add_layout(right, "right")


def make_main(names, series, vlines, xr, width, top_h, bl, br, zero_label, ytitle_so, leg):
    height = H - top_h
    p = figure(width=width, height=height, x_range=Range1d(*xr), y_range=Range1d(0, 10),
               output_backend="svg", toolbar_location=None, x_axis_type=None, y_axis_type=None,
               min_border_left=bl, min_border_right=br, min_border_top=2,
               min_border_bottom=H - FRAME_BOTTOM, frame_align=False)
    p.outline_line_color = GRAY
    p.outline_line_width = 1.5
    add_axes(p, zero_label, ytitle_so)

    for v in vlines:
        p.add_layout(Span(location=v, dimension="height", line_color=VLINE,
                          line_width=1.5, level="underlay"))

    items = []
    for name, pts, color in zip(names, series, COLORS):
        r = p.line([a for a, b in pts], [b for a, b in pts], line_color=color,
                   line_width=3, line_join="round")
        items.append(LegendItem(label=name, renderers=[r]))
    legend = Legend(items=items, location=leg["loc"], orientation="vertical",
                    glyph_width=leg["gw"], glyph_height=leg["h"], label_height=leg["h"],
                    label_standoff=leg["so"], spacing=leg["sp"], padding=0, margin=0,
                    border_line_color=None, background_fill_alpha=0,
                    label_text_font="DejaVu Sans", label_text_font_size=leg["fs"],
                    label_text_color="#333333", label_text_baseline="middle")
    p.add_layout(legend)
    return p


def make_top(width, height, xr, frame_left, arrow_base, tips, lab_pos):
    # strip above a panel; x axis in eV aligned with the panel frame below, y in pixels
    px_per_ev = FRAME_W / (xr[1] - xr[0])
    x0 = xr[0] - frame_left / px_per_ev
    t = figure(width=width, height=height, x_range=Range1d(x0, x0 + width / px_per_ev),
               y_range=Range1d(0, height), output_backend="svg", toolbar_location=None,
               x_axis_type=None, y_axis_type=None, min_border=0, frame_align=False)
    t.outline_line_color = None
    for base, (tx, ty), name, (lx, ly) in zip(arrow_base, tips, PEAK_NAMES, lab_pos):
        t.add_layout(Arrow(end=NormalHead(size=13, fill_color=ORANGE, line_color=ORANGE, line_width=1),
                           x_start=base, y_start=0, start_units="data",
                           x_end=tx, y_end=ty, end_units="screen",
                           line_color=ORANGE_LINE, line_width=1.6))
        t.add_layout(Label(x=lx, y=ly, x_units="screen", y_units="screen", text=name,
                           text_align="center", text_baseline="middle", text_font="Open Sans",
                           text_font_size="24px", text_color="#222222"))
    return t


XR_L = (528.0, 548.06)
XR_R = (527.86, 548.05)
TOP_L, TOP_R = 155, 161

topL = make_top(465, TOP_L, XR_L, 86, ARROW_BASE_LEFT,
                [(102, 32), (152, 64), (175, 112), (221, 86), (262, 42)],
                [(98, 46), (139, 83), (170, 131), (241, 107), (276, 54)])
mainL = make_main(LEFT_NAMES, LEFT_SERIES, PEAK_LINES_LEFT, XR_L, 465, TOP_L, 86, 68, True, -20,
                  dict(loc=(201, 24), gw=46, h=20, so=4, sp=4, fs="17px"))
topR = make_top(461, TOP_R, XR_R, 98, ARROW_BASE_RIGHT,
                [(116, 36), (165, 66), (186, 114), (232, 88), (271, 46)],
                [(110, 53), (150, 89), (181, 136), (252, 112), (287, 59)])
mainR = make_main(RIGHT_NAMES, RIGHT_SERIES, PEAK_LINES_RIGHT, XR_R, 461, TOP_R, 98, 52, False, 0,
                  dict(loc=(173, 22), gw=56, h=24, so=6, sp=6, fs="20px"))

layout = row(column(topL, mainL), column(topR, mainR))
open("out.html", "w").write(file_html(layout, INLINE))
